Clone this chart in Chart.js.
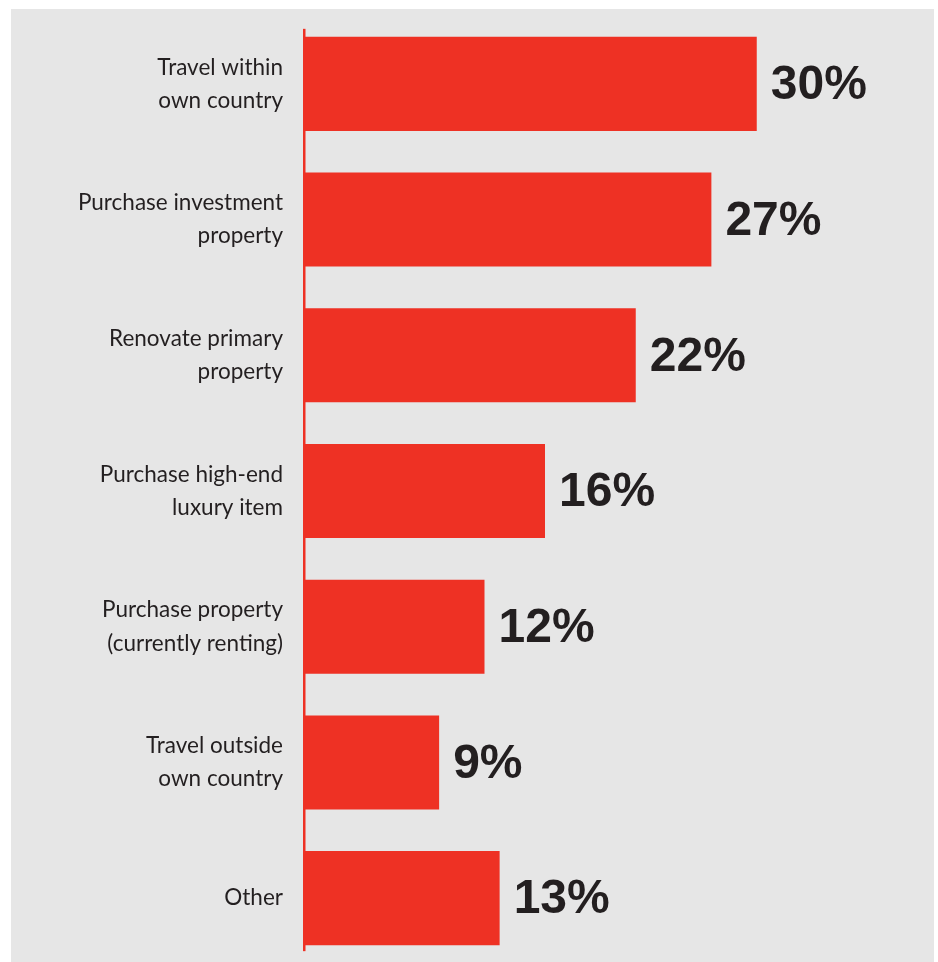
<!DOCTYPE html>
<html>
<head>
<meta charset="utf-8">
<script src="https://cdn.jsdelivr.net/npm/chart.js@4.4.1/dist/chart.umd.min.js"></script>
<style>
    html, body {
        margin: 0;
        padding: 0;
        background: #ffffff;
        overflow: hidden;
    }
    .panel {
        position: absolute;
        left: 11px;
        top: 9px;
        width: 923px;
        height: 960px;
        background: #e6e6e6;
    }
    .chart-box {
        position: absolute;
        left: 0;
        top: 0;
        width: 938px;
        height: 970px;
    }
</style>
</head>
<body>
<div class="panel"></div>
<div class="chart-box"><canvas id="myChart"></canvas></div>
<script>
const categories = [
        ["Travel within", "own country"],
        ["Purchase investment", "property"],
        ["Renovate primary", "property"],
        ["Purchase high-end", "luxury item"],
        ["Purchase property", "(currently renting)"],
        ["Travel outside", "own country"],
        ["Other"]
    ],
    shares = [30, 27, 22, 16, 12, 9, 13],
    barRed = "#ee3124",
    inkColor = "#231f20";

// red axis line on the left, slightly longer than the bar stack
const axisLine = {
    id: "axisLine",
    afterDatasetsDraw(chart) {
        const bars = chart.getDatasetMeta(0).data,
            first = bars[0],
            last = bars[bars.length - 1],
            ctx = chart.ctx,
            left = chart.chartArea.left,
            top = first.y - first.height / 2 - 8,
            bottom = last.y + last.height / 2 + 6;
        ctx.save();
        ctx.fillStyle = barRed;
        ctx.fillRect(left, top, 2.5, bottom - top);
        ctx.restore();
    }
};

// big bold percentage next to each bar
const valueLabels = {
    id: "valueLabels",
    afterDatasetsDraw(chart) {
        const ctx = chart.ctx,
            values = chart.data.datasets[0].data;
        ctx.save();
        ctx.fillStyle = inkColor;
        ctx.font = "bold 48px 'Liberation Sans', Arial, sans-serif";
        ctx.textAlign = "left";
        ctx.textBaseline = "middle";
        chart.getDatasetMeta(0).data.forEach((bar, i) => {
            ctx.fillText(values[i] + "%", bar.x + 14, bar.y + 2);
        });
        ctx.restore();
    }
};

const ctx = document.getElementById("myChart").getContext("2d");
const myChart = new Chart(ctx, {
    type: "bar",
    data: {
        labels: categories,
        datasets: [{
            data: shares,
            backgroundColor: barRed,
            borderWidth: 0,
            categoryPercentage: 1,
            barPercentage: 0.693
        }]
    },
    options: {
        indexAxis: "y",
        responsive: true,
        maintainAspectRatio: false,
        animation: false,
        layout: {
            padding: { top: 16, bottom: 4, left: 0, right: 30 }
        },
        plugins: {
            legend: { display: false },
            tooltip: { enabled: false }
        },
        scales: {
            x: {
                display: false,
                min: 0,
                max: 40
            },
            y: {
                afterFit(scale) {
                    scale.width = 303;
                    scale.paddingTop = 0;
                    scale.paddingBottom = 0;
                },
                grid: { display: false, drawTicks: false },
                border: { display: false },
                ticks: {
                    padding: 20,
                    color: inkColor,
                    font: { family: "Lato, 'Noto Sans', sans-serif", size: 22.5, lineHeight: 1.47 }
                }
            }
        }
    },
    plugins: [axisLine, valueLabels]
});
</script>
</body>
</html>
